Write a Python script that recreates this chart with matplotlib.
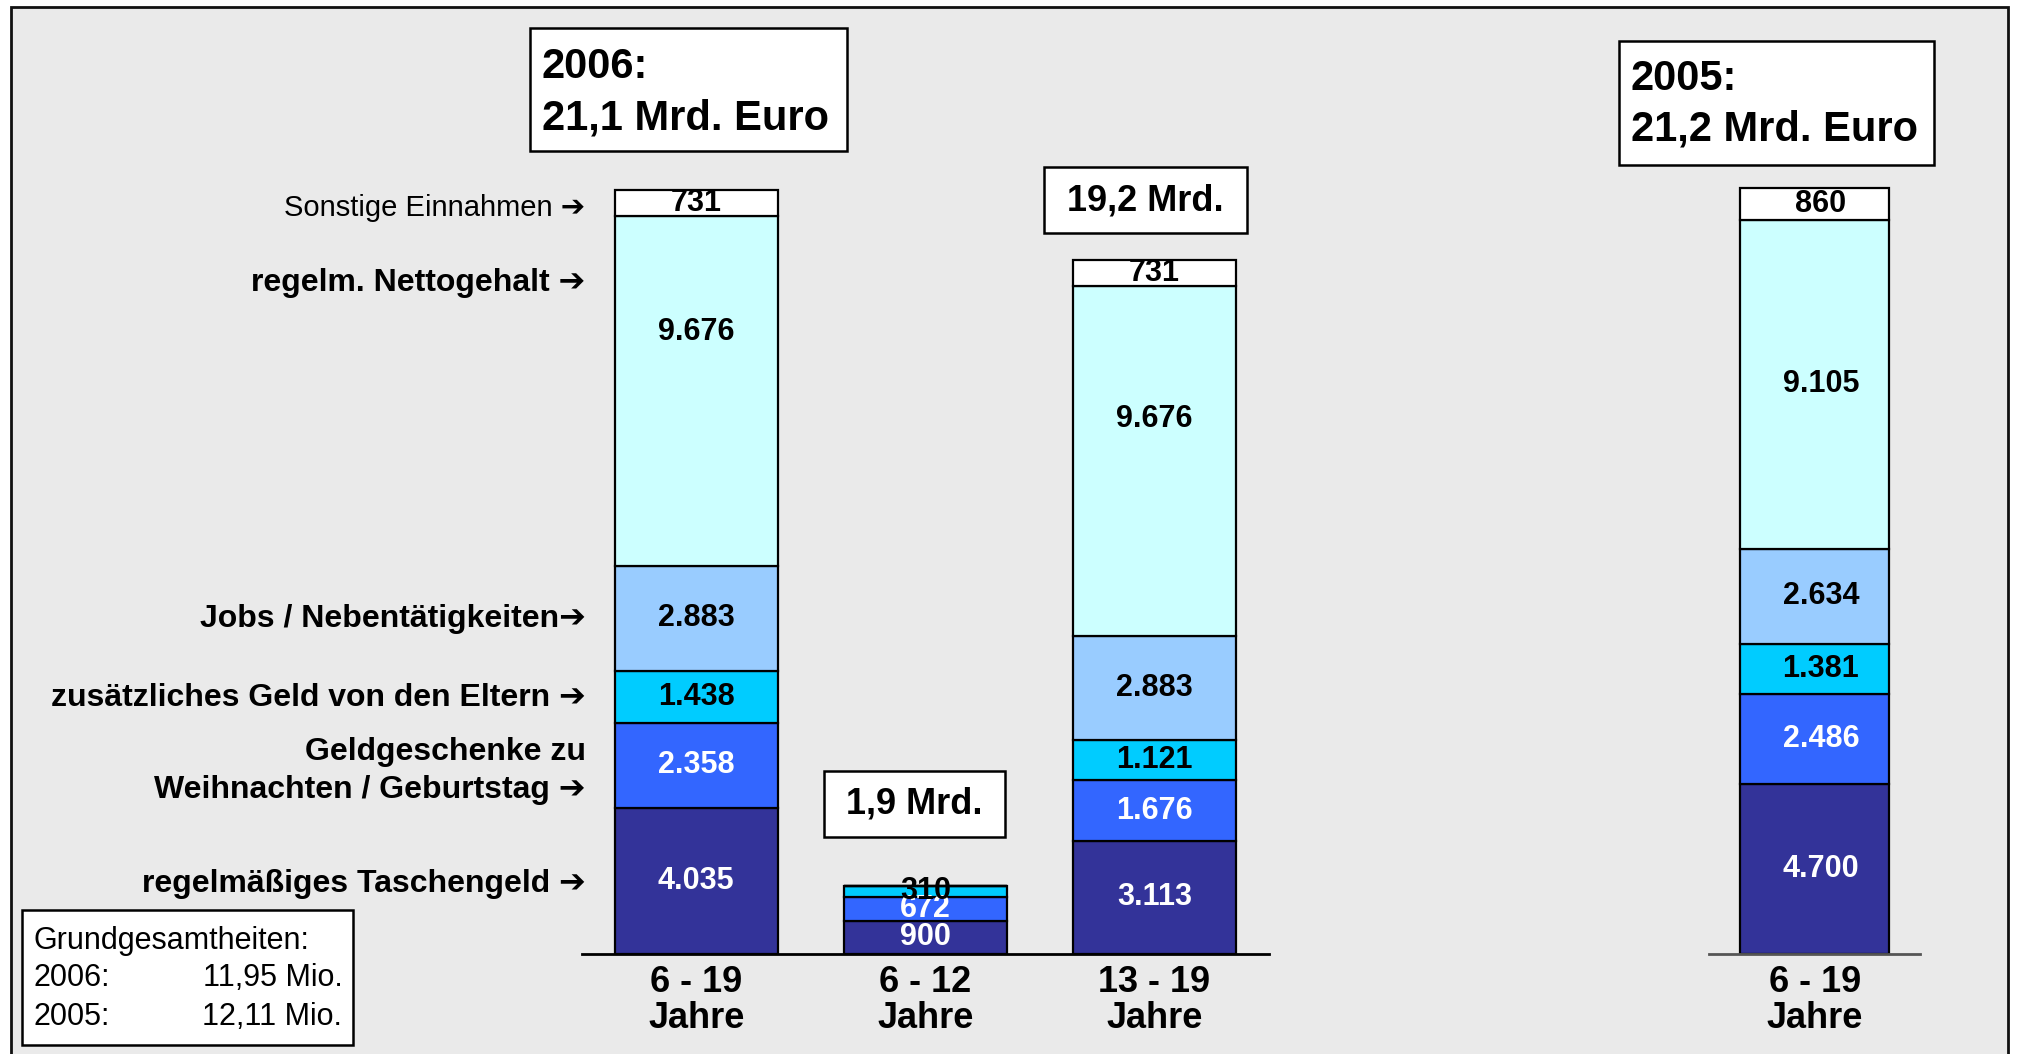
import matplotlib
matplotlib.use('Agg')
import matplotlib.pyplot as plt
from matplotlib.patches import Rectangle

plt.rcParams['font.family'] = ['Liberation Sans', 'DejaVu Sans']

# ---------------- data ----------------
groups_2006 = ['6 - 19\nJahre', '6 - 12\nJahre', '13 - 19\nJahre']
groups_2005 = ['6 - 19\nJahre']
components = ['regelmäßiges Taschengeld',
              'Geldgeschenke zu Weihnachten / Geburtstag',
              'zusätzliches Geld von den Eltern',
              'Jobs / Nebentätigkeiten',
              'regelm. Nettogehalt',
              'Sonstige Einnahmen']
taschengeld_2006 = [4035, 900, 3113]
geschenke_2006 = [2358, 672, 1676]
eltern_2006 = [1438, 310, 1121]
jobs_2006 = [2883, 0, 2883]
netto_2006 = [9676, 0, 9676]
sonstige_2006 = [731, 0, 731]
values_2005 = [4700, 2486, 1381, 2634, 9105, 860]
totals_text = ['2006:\n21,1 Mrd. Euro', '1,9 Mrd.', '19,2 Mrd.', '2005:\n21,2 Mrd. Euro']
base_text = ['Grundgesamtheiten:', '2006:', '11,95 Mio.', '2005:', '12,11 Mio.']

# ---------------- style ----------------
colors = ['#333399', '#3366FF', '#00CCFF', '#99CCFF', '#CCFFFF', '#FFFFFF']
label_colors = ['white', 'white', 'black', 'black', 'black', 'black']
# manual vertical nudges of the value labels (layout only)
nudge_2006 = {4: [1650, 0, 1150]}

W, H = 2018, 1054
SW, SH = 1568.0, 819.0   # reference coordinate frame used for layout


def fx(x):
    return x / SW


def fy(y):
    return 1 - y / SH


fig = plt.figure(figsize=(W / 100, H / 100), dpi=100)
fig.patch.set_facecolor('white')
fig.patches.append(Rectangle((11 / W, -0.01), (2008 - 11) / W, 1 - 7 / H + 0.01,
                             transform=fig.transFigure, facecolor='#EAEAEA',
                             edgecolor='#111111', linewidth=2, zorder=-10))

ax_bottom = fy(741)
ax_h = (741 - 741 + 618) / SH
ymax = 22000
axL = fig.add_axes([fx(452), ax_bottom, fx(986) - fx(452), ax_h])
axR = fig.add_axes([fx(1328), ax_bottom, fx(1492) - fx(1328), ax_h])

series_2006 = [taschengeld_2006, geschenke_2006, eltern_2006, jobs_2006, netto_2006, sonstige_2006]


def fmt(v):
    return f"{v:,}".replace(',', '.')


def style_axis(ax, labels, xlim, spine_color):
    ax.set_xlim(*xlim)
    ax.set_ylim(0, ymax)
    ax.patch.set_alpha(0)
    for s in ['top', 'right', 'left']:
        ax.spines[s].set_visible(False)
    ax.spines['bottom'].set_linewidth(2)
    ax.spines['bottom'].set_color(spine_color)
    ax.set_yticks([])
    ax.set_xticks(range(len(labels)))
    ax.set_xticklabels(labels, fontsize=26, fontweight='bold', linespacing=1.05)
    ax.tick_params(axis='x', length=0, pad=8)


# 2006 bars
xs = list(range(len(groups_2006)))
bottoms = [0] * len(xs)
for i, vals in enumerate(series_2006):
    axL.bar(xs, vals, width=0.71, bottom=bottoms, color=colors[i],
            edgecolor='black', linewidth=1.6, zorder=2)
    for j, v in enumerate(vals):
        if v > 0:
            yc = bottoms[j] + v / 2 + nudge_2006.get(i, [0] * 3)[j]
            axL.text(xs[j], yc, fmt(v), ha='center', va='center', fontsize=22,
                     fontweight='bold', color=label_colors[i], zorder=3)
    bottoms = [b + v for b, v in zip(bottoms, vals)]
style_axis(axL, groups_2006, (-0.5, 2.5), 'black')

# 2005 bar
b = 0
for i, v in enumerate(values_2005):
    axR.bar([0], [v], width=0.707, bottom=b, color=colors[i],
            edgecolor='black', linewidth=1.6, zorder=2)
    axR.text(0.03, b + v / 2, fmt(v), ha='center', va='center', fontsize=22,
             fontweight='bold', color=label_colors[i], zorder=3)
    b += v
style_axis(axR, groups_2005, (-0.5, 0.5), '#555555')

# ---------------- component labels on the left ----------------
arrow = ' \u2794'
left_labels = [
    ('Sonstige Einnahmen' + arrow, 162, 'normal', 21),
    ('regelm. Nettogehalt' + arrow, 220, 'bold', 23),
    ('Jobs / Nebentätigkeiten\u2794', 481, 'bold', 23),
    ('zusätzliches Geld von den Eltern' + arrow, 542, 'bold', 23),
    ('Geldgeschenke zu', 584, 'bold', 23),
    ('Weihnachten / Geburtstag' + arrow, 614, 'bold', 23),
    ('regelmäßiges Taschengeld' + arrow, 687, 'bold', 23),
]
for txt, y, w, fs in left_labels:
    fig.text(fx(455), fy(y), txt, ha='right', va='center', fontsize=fs, fontweight=w)

# ---------------- total boxes ----------------
def box(x0, y0, x1, y1):
    fig.patches.append(Rectangle((fx(x0), fy(y1)), fx(x1) - fx(x0), fy(y0) - fy(y1),
                                 transform=fig.transFigure, facecolor='white',
                                 edgecolor='black', linewidth=1.8, zorder=5))


box(412, 22, 658, 117)
t06 = totals_text[0].split('\n')
fig.text(fx(421), fy(52), t06[0], ha='left', va='center', fontsize=30, fontweight='bold', zorder=6)
fig.text(fx(421), fy(92), t06[1], ha='left', va='center', fontsize=30, fontweight='bold', zorder=6)

box(1258, 32, 1503, 128)
t05 = totals_text[3].split('\n')
fig.text(fx(1267), fy(61), t05[0], ha='left', va='center', fontsize=30, fontweight='bold', zorder=6)
fig.text(fx(1267), fy(101), t05[1], ha='left', va='center', fontsize=30, fontweight='bold', zorder=6)

box(811, 130, 969, 181)
fig.text(fx(890), fy(156), totals_text[2], ha='center', va='center', fontsize=26, fontweight='bold', zorder=6)

box(640, 599, 781, 650)
fig.text(fx(710), fy(625), totals_text[1], ha='center', va='center', fontsize=26, fontweight='bold', zorder=6)

# ---------------- base population box ----------------
box(17, 707, 274, 812)
fig.text(fx(26), fy(731), base_text[0], ha='left', va='center', fontsize=22, zorder=6)
fig.text(fx(26), fy(760), base_text[1], ha='left', va='center', fontsize=22, zorder=6)
fig.text(fx(266), fy(760), base_text[2], ha='right', va='center', fontsize=22, zorder=6)
fig.text(fx(26), fy(790), base_text[3], ha='left', va='center', fontsize=22, zorder=6)
fig.text(fx(266), fy(790), base_text[4], ha='right', va='center', fontsize=22, zorder=6)

fig.savefig('out.png', dpi=100, facecolor=fig.get_facecolor())
